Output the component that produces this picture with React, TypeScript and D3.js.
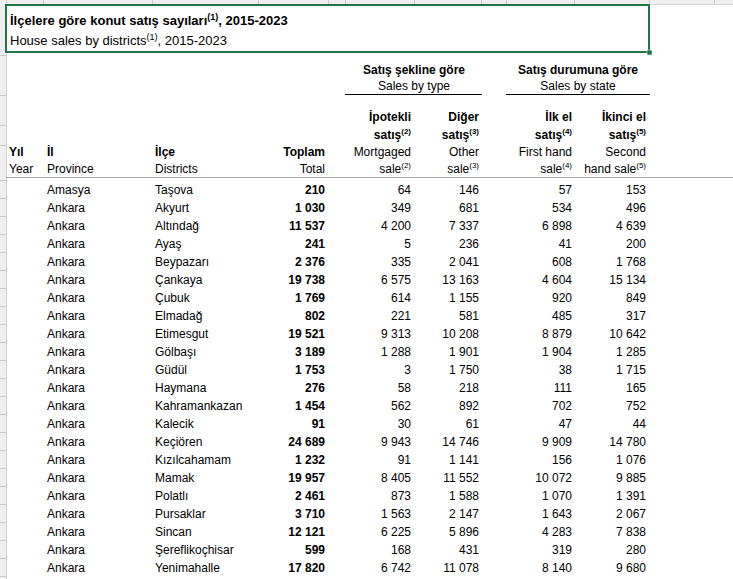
import React from 'react';
import * as d3 from 'd3';

const provinces = ['Amasya', 'Ankara', 'Ankara', 'Ankara', 'Ankara', 'Ankara', 'Ankara', 'Ankara', 'Ankara', 'Ankara', 'Ankara', 'Ankara', 'Ankara', 'Ankara', 'Ankara', 'Ankara', 'Ankara', 'Ankara', 'Ankara', 'Ankara', 'Ankara', 'Ankara'];
const districts = ['Taşova', 'Akyurt', 'Altındağ', 'Ayaş', 'Beypazarı', 'Çankaya', 'Çubuk', 'Elmadağ', 'Etimesgut', 'Gölbaşı', 'Güdül', 'Haymana', 'Kahramankazan', 'Kalecik', 'Keçiören', 'Kızılcahamam', 'Mamak', 'Polatlı', 'Pursaklar', 'Sincan', 'Şereflikoçhisar', 'Yenimahalle'];
const totals = [210, 1030, 11537, 241, 2376, 19738, 1769, 802, 19521, 3189, 1753, 276, 1454, 91, 24689, 1232, 19957, 2461, 3710, 12121, 599, 17820];
const mortgaged = [64, 349, 4200, 5, 335, 6575, 614, 221, 9313, 1288, 3, 58, 562, 30, 9943, 91, 8405, 873, 1563, 6225, 168, 6742];
const other = [146, 681, 7337, 236, 2041, 13163, 1155, 581, 10208, 1901, 1750, 218, 892, 61, 14746, 1141, 11552, 1588, 2147, 5896, 431, 11078];
const firstHand = [57, 534, 6898, 41, 608, 4604, 920, 485, 8879, 1904, 38, 111, 702, 47, 9909, 156, 10072, 1070, 1643, 4283, 319, 8140];
const secondHand = [153, 496, 4639, 200, 1768, 15134, 849, 317, 10642, 1285, 1715, 165, 752, 44, 14780, 1076, 9885, 1391, 2067, 7838, 280, 9680];

const W = 733;
const H = 579;
const FONT = '"Liberation Sans", Arial, sans-serif';
const green = '#217346';

const fmt = d3.formatLocale({ decimal: ',', thousands: ' ', grouping: [3], currency: ['', ''] }).format(',d');

// piece = [text, isSuperscript]
type Piece = [string, boolean?];

const Txt = ({ x, y, parts, anchor = 'start', bold = false, size = 12 }: { x: number; y: number; parts: Piece[]; anchor?: string; bold?: boolean; size?: number }) => {
  let raised = false;
  const supSize = Math.round(size * 0.7);
  return (
    <text x={x} y={y} textAnchor={anchor} fontWeight={bold ? 'bold' : 'normal'} fontSize={size}>
      {parts.map(([t, sup], i) => {
        let dy = 0;
        if (sup && !raised) { dy = -5; raised = true; }
        else if (!sup && raised) { dy = 5; raised = false; }
        return (
          <tspan key={i} dy={dy || undefined} fontSize={sup ? supSize : size}>{t}</tspan>
        );
      })}
    </text>
  );
};

export default function App() {
  const rowTop = 180;
  const step = 18;
  const y = d3.scaleBand<number>()
    .domain(d3.range(districts.length))
    .range([rowTop, rowTop + step * districts.length]);

  // column anchors
  const cYear = 9, cProv = 47, cDist = 155;
  const numCols = [
    { x: 325, vals: totals, bold: true },
    { x: 411, vals: mortgaged, bold: false },
    { x: 479, vals: other, bold: false },
    { x: 572, vals: firstHand, bold: false },
    { x: 646, vals: secondHand, bold: false },
  ];

  const topSeps = [43, 152, 258, 328, 345, 414, 481, 506, 574, 649, 714];
  const leftSeps = [55, 95, 125, 145].concat(d3.range(districts.length + 1).map(i => rowTop + i * step));

  const h1 = 121, h2 = 139, h3 = 156, h4 = 173;

  return (
    <svg width={W} height={H} style={{ position: 'absolute', left: 0, top: 0, background: '#fff' }} fontFamily={FONT}>
      <rect width={W} height={H} fill="#fff" />
      {/* spreadsheet chrome */}
      <rect x={0} y={0} width={W} height={4} fill="#efefef" />
      <line x1={0} x2={W} y1={4.5} y2={4.5} stroke="#d4d4d4" />
      {topSeps.map(s => <line key={s} x1={s + 0.5} x2={s + 0.5} y1={0} y2={4} stroke="#c8c8c8" />)}
      <rect x={0} y={0} width={6} height={H} fill="#efefef" />
      <line x1={6.5} x2={6.5} y1={0} y2={H} stroke="#d0d0d0" />
      {leftSeps.map(s => <line key={s} x1={0} x2={6} y1={s + 0.5} y2={s + 0.5} stroke="#c8c8c8" />)}

      {/* title box */}
      <rect x={6} y={5} width={643} height={47} fill="none" stroke={green} strokeWidth={2} />
      <rect x={647} y={50} width={5} height={5} fill={green} stroke="#fff" strokeWidth={0.5} />
      <Txt x={10} y={25} size={13} bold parts={[['İlçelere göre konut satış sayıları'], ['(1)', true], [', 2015-2023']]} />
      <Txt x={10} y={45} size={13} parts={[['House sales by districts'], ['(1)', true], [', 2015-2023']]} />

      {/* group headers */}
      <Txt x={414} y={74} anchor="middle" bold parts={[['Satış şekline göre']]} />
      <Txt x={414} y={90} anchor="middle" parts={[['Sales by type']]} />
      <line x1={345} x2={482} y1={94.5} y2={94.5} stroke="#000" />
      <Txt x={578} y={74} anchor="middle" bold parts={[['Satış durumuna göre']]} />
      <Txt x={578} y={90} anchor="middle" parts={[['Sales by state']]} />
      <line x1={506} x2={650} y1={94.5} y2={94.5} stroke="#000" />

      {/* column headers */}
      <Txt x={cYear} y={h3} bold parts={[['Yıl']]} />
      <Txt x={cYear} y={h4} parts={[['Year']]} />
      <Txt x={cProv} y={h3} bold parts={[['İl']]} />
      <Txt x={cProv} y={h4} parts={[['Province']]} />
      <Txt x={cDist} y={h3} bold parts={[['İlçe']]} />
      <Txt x={cDist} y={h4} parts={[['Districts']]} />
      <Txt x={325} y={h3} anchor="end" bold parts={[['Toplam']]} />
      <Txt x={325} y={h4} anchor="end" parts={[['Total']]} />

      <Txt x={411} y={h1} anchor="end" bold parts={[['İpotekli']]} />
      <Txt x={411} y={h2} anchor="end" bold parts={[['satış'], ['(2)', true]]} />
      <Txt x={411} y={h3} anchor="end" parts={[['Mortgaged']]} />
      <Txt x={411} y={h4} anchor="end" parts={[['sale'], ['(2)', true]]} />

      <Txt x={479} y={h1} anchor="end" bold parts={[['Diğer']]} />
      <Txt x={479} y={h2} anchor="end" bold parts={[['satış'], ['(3)', true]]} />
      <Txt x={479} y={h3} anchor="end" parts={[['Other']]} />
      <Txt x={479} y={h4} anchor="end" parts={[['sale'], ['(3)', true]]} />

      <Txt x={572} y={h1} anchor="end" bold parts={[['İlk el']]} />
      <Txt x={572} y={h2} anchor="end" bold parts={[['satış'], ['(4)', true]]} />
      <Txt x={572} y={h3} anchor="end" parts={[['First hand']]} />
      <Txt x={572} y={h4} anchor="end" parts={[['sale'], ['(4)', true]]} />

      <Txt x={646} y={h1} anchor="end" bold parts={[['İkinci el']]} />
      <Txt x={646} y={h2} anchor="end" bold parts={[['satış'], ['(5)', true]]} />
      <Txt x={646} y={h3} anchor="end" parts={[['Second']]} />
      <Txt x={646} y={h4} anchor="end" parts={[['hand sale'], ['(5)', true]]} />

      <line x1={6} x2={W} y1={177.5} y2={177.5} stroke="#a6a6a6" />

      {/* body rows */}
      <g fontSize={12}>
        {districts.map((d, i) => {
          const by = (y(i) as number) + y.bandwidth() / 2 + 4.5;
          return (
            <g key={i}>
              <text x={cProv} y={by}>{provinces[i]}</text>
              <text x={cDist} y={by}>{d}</text>
              {numCols.map((c, j) => (
                <text key={j} x={c.x} y={by} textAnchor="end" fontWeight={c.bold ? 'bold' : 'normal'}>{fmt(c.vals[i])}</text>
              ))}
            </g>
          );
        })}
      </g>
    </svg>
  );
}
